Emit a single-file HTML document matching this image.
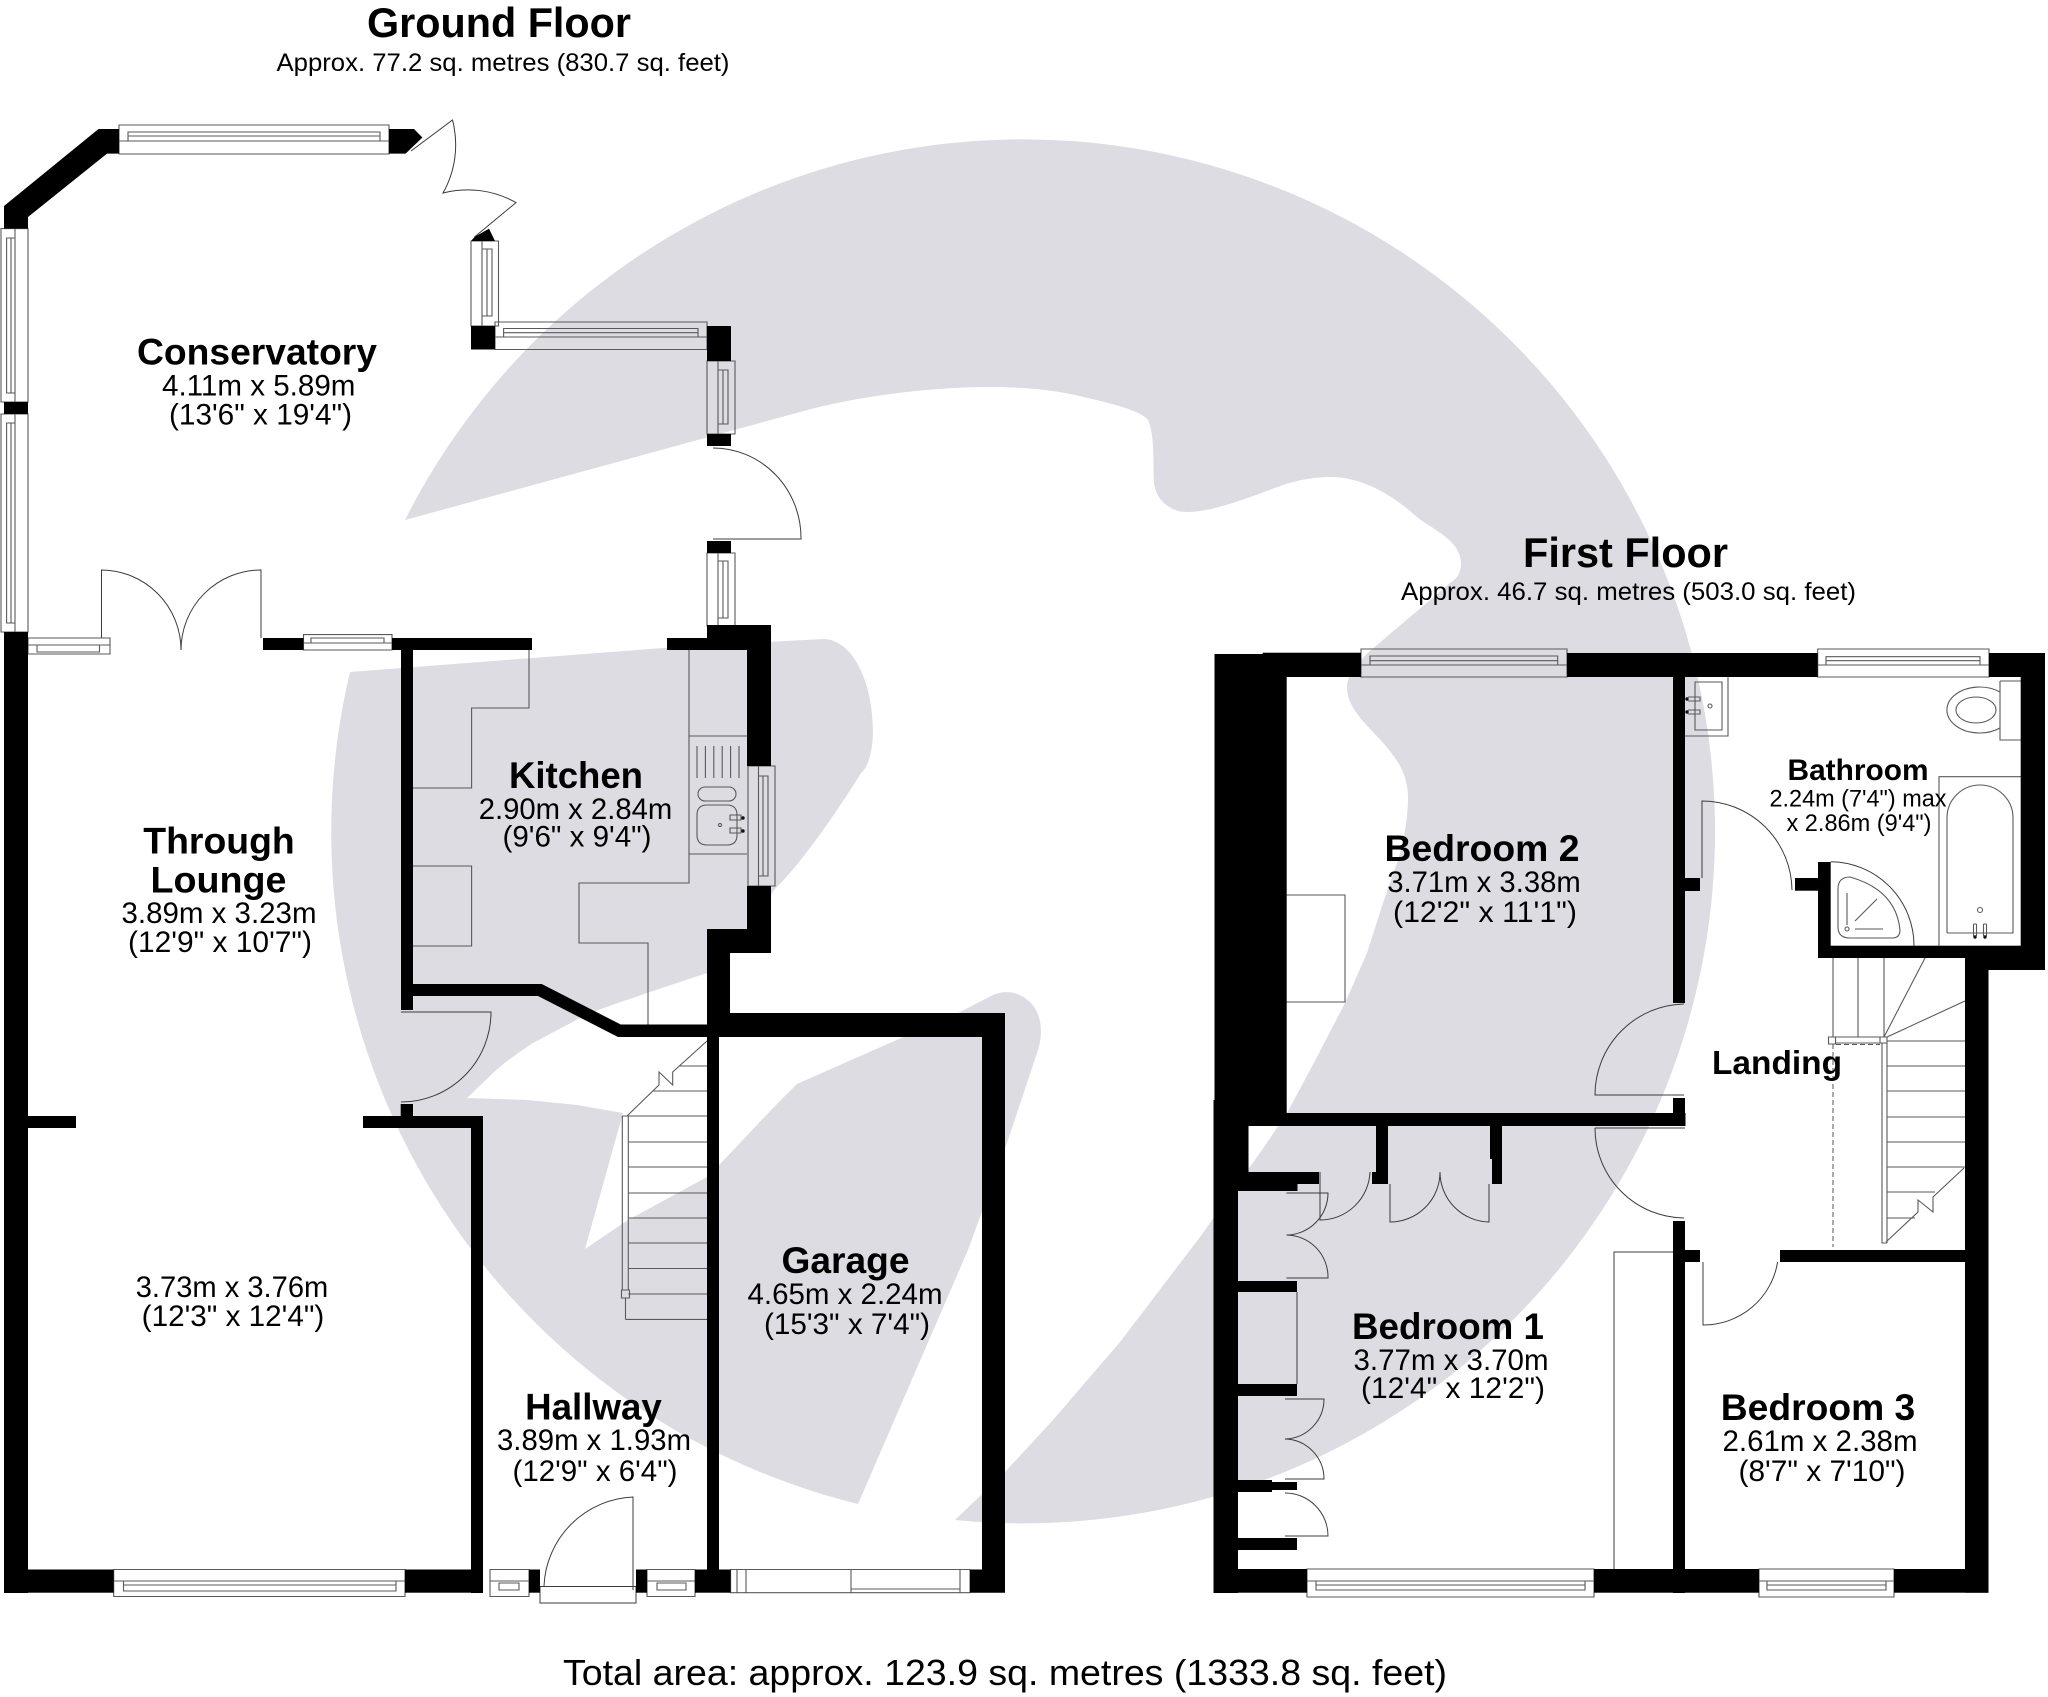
<!DOCTYPE html>
<html><head><meta charset="utf-8"><title>Floor plan</title>
<style>
html,body{margin:0;padding:0;background:#fff}
svg{display:block}
text{font-family:"Liberation Sans",sans-serif;fill:#000;text-anchor:middle}
.b{font-weight:bold;font-size:37px}
.r{font-size:29.5px}
.bb{font-weight:bold;font-size:29.6px}
.rs{font-size:24px}
.t{font-weight:bold;font-size:42px}
.a{font-size:25px}
.l{fill:none;stroke:#3c3c3c;stroke-width:1}
.g{fill:none;stroke:#5a5a5a;stroke-width:1.1}
</style></head><body>
<svg width="2048" height="1697" viewBox="0 0 2048 1697" xmlns="http://www.w3.org/2000/svg">
<rect width="2048" height="1697" fill="#fff"/>
<!-- watermark -->
<g fill="#dcdce2">
<path d="M955,1520 A692,692 0 1 0 405,520 L800,412 C880,390 1000,378 1075,395 C1110,403 1140,410 1148,420 C1155,435 1153,465 1154,483 C1156,500 1170,512 1187,512 C1215,512 1255,495 1283,485 C1305,478 1320,477 1333,477 C1365,478 1395,497 1417,517 C1430,528 1461,540 1461,563 C1461,575 1455,580 1450,583 C1425,605 1400,625 1383,640 C1365,655 1347,670 1347,687 C1347,725 1408,745 1408,797 C1408,820 1403,845 1397,863 L1383,903 L1367,953 L1345,1003 L1317,1057 L1287,1113 L1262,1150 L1200,1237 L1120,1342 L1053,1420 L1005,1472 Z"/>
<path d="M350,672 L689,646 L824,639 C852,640 873,680 873,733 C872,760 865,770 861,773 C835,815 800,865 774,890 C755,925 735,955 707,973 L647,993 C625,1001 600,1008 580,1018 L533,1043 C515,1055 505,1062 493,1073 L467,1098 L527,1100 L577,1105 L623,1113 L585,1249 L628,1220 L707,1177 C730,1155 760,1120 797,1084 L960,1012 L993,995 C1010,988 1022,995 1030,1002 C1040,1012 1045,1030 1037,1053 L1007,1143 L968,1250 L858,1504 A692,692 0 0 1 350,672 Z"/>
</g>
<!-- fixture and door lines -->
<path class="l" d="
M411,151 L452.5,120 A98,98 0 0 1 443,193 A98,98 0 0 1 516,202.6 L474.5,237
M713,448 A88,90 0 0 1 801,538 V539 H713
M101.5,638 V570 A80,80 0 0 1 181,650 A80,80 0 0 1 261,570 V638
M401,1012 H491 A90,90 0 0 1 401,1102
M633,1590 V1497 A93,93 0 0 0 544,1586
M540,1586.5 H636 M540,1586.5 V1603 H636 V1586.5
M1702,878 V801 A90,90 0 0 1 1792,890
M1830.7,861.7 A84,84 0 0 1 1914,945.7
M1684,1004 A91,91 0 0 0 1595,1095 H1684
M1595,1128 H1685 M1595,1128 A90,90 0 0 0 1684,1218
M1703,1262 V1325 A75,75 0 0 0 1777.6,1262
M1320,1172 V1220 A50,50 0 0 0 1370,1172
M1390,1184 V1222 A50,50 0 0 0 1440,1172 A50,50 0 0 0 1489,1222 V1184
M1286.5,1193 H1328 A42,42 0 0 1 1286.5,1235 A42,42 0 0 1 1328,1278 H1286.5
M1285,1399 H1324 A40,40 0 0 1 1285,1439 A40,40 0 0 1 1324,1479 H1285
M1285,1493 A43,43 0 0 1 1328,1536 H1285
M1297,1292 V1384
M1614,1569 V1252 H1673
"/>
<!-- Kitchen -->
<path class="g" d="
M689,650 V883 H579 V943 H648 V1025
M529,650 V708 H471.6 V788 H413
M413,866 H471.6 V946 H413
M689,736 H747 M689,854 H747
M697,746 V778 M705.4,746 V778 M713.8,746 V778 M722.2,746 V778 M730.6,746 V778 M739,746 V778
M705,787 H729 A7,7 0 0 1 729,801 H705 A7,7 0 0 1 705,787 Z
M707,805 H727 Q737,805 737,815 V835 Q737,845 727,845 H707 Q697,845 697,835 V815 Q697,805 707,805 Z
M730,815 H741 V820 H730 Z M730,828 H741 V833 H730 Z
M1685,736 H1728 V677 M1695,682 H1722 V730 H1695 Z
M1688,697 H1700 V701 H1688 M1688,710 H1700 V714 H1688
M1939,945.7 V776.7 H2021
M1947,933 V818 A33,33 0 0 1 2013,818 V933 H1947
M1973.5,924 V936 M1976.5,924 V936 M1983.5,924 V936 M1986.5,924 V936 M1973.5,924 H1976.5 M1983.5,924 H1986.5
M2000,681 H2021 M2000,681 V740 H2021
M1850,877 Q1838,877 1838,889 V927 Q1838,938 1850,938 H1892 Q1900,938 1900,930 Q1896,890 1850,877 Z
M1847,893 V925 M1855,921 L1877,899 M1855,929 H1883
M1286.5,895 H1345 V1002 H1286.5
"/>
<ellipse class="g" cx="720" cy="825" rx="1.6" ry="1.6"/>
<ellipse class="g" cx="1710" cy="706" rx="2" ry="2"/>
<ellipse class="g" cx="1980" cy="910" rx="2.5" ry="2.5"/>
<ellipse class="g" cx="1847" cy="929" rx="2" ry="2"/>
<path class="g" d="M2000,692 A32.7,23 0 1 0 2000,728"/>
<ellipse class="g" cx="1976" cy="710" rx="20" ry="13"/>
<g fill="#111"><circle cx="743" cy="818" r="1.7"/><circle cx="743" cy="831" r="1.7"/><circle cx="1687" cy="699" r="1.7"/><circle cx="1687" cy="712" r="1.7"/><circle cx="1975" cy="937" r="1.7"/><circle cx="1985" cy="937" r="1.7"/></g>
<!-- ground stairs -->
<path class="g" d="
M628.3,1116 H707 M628.3,1142 H707 M628.3,1167 H707 M628.3,1193 H707 M628.3,1218 H707 M628.3,1243 H707 M628.3,1268.5 H707 M628.3,1294 H707 M625.5,1319.4 H707 M625.5,1298 V1319.4
M679,1066 H707 M653,1091 H707
M622.3,1116 V1290 M628.3,1116 V1290 M622.3,1116 H628.3 M621.5,1290 H629.5 V1298 H621.5 Z
M627,1116 L659,1085 V1072 L672.7,1085 V1072 L707,1041
"/>
<!-- first floor stairs -->
<path class="g" d="
M1833,958 V1037 M1858,958 V1037 M1884,958 V1037
M1925,958 L1884,1037 M1965,1001 L1887,1037
M1828.5,1037 H1835.5 V1044 H1828.5 Z M1835.5,1037 H1880 V1043 H1835.5 M1880,1037 H1887 V1043 H1880 Z
M1887,1041 H1965 M1887,1066 H1965 M1887,1091 H1965 M1887,1117 H1965 M1887,1142 H1965 M1887,1167 H1965 M1887,1192 H1935 M1887,1218 H1915
M1887,1043 V1243 M1882,1043 V1243 H1887
M1964,1168 L1933,1197 V1212 L1918,1200 V1212 L1886,1242
"/>
<path d="M1836,1044.5 H1880 M1833,1044 V1247" fill="none" stroke="#555" stroke-width="1" stroke-dasharray="5 3"/>
<!-- windows -->
<path class="g" d="
M119,125 H389 V154 H119 Z M128,132 H380 V141 H128 Z M128,136 H380 M119,141 H389
M495,322 H707 V349.5 H495 Z M503.6,328.5 H698 V337 H503.6 Z M503.6,332.7 H698 M495,337 H707
M28,638 H110 V654 H28 Z M37,645 H99.5 V652 H37 Z M28,645 H110
M303.5,634.6 H392 V650 H303.5 Z M311,638 H384 V643 H311 Z M303.5,643 H392
M113.7,1569.5 H405 V1596.5 H113.7 Z M123.5,1581 H396 V1591 H123.5 Z M123.5,1585 H396 M113.7,1581 H405
M490,1569.5 H529 V1596.5 H490 Z M499,1583 H519 V1590 H499 Z M490,1581 H529
M647,1569.5 H695 V1596.5 H647 Z M657,1583 H686 V1590 H657 Z M647,1581 H695
M1361,649 H1567 V677 H1361 Z M1370,656 H1557.7 V665 H1370 Z M1370,660.7 H1557.7 M1361,665 H1567
M1817.7,649 H1989 V677 H1817.7 Z M1826,656.7 H1980 V665 H1826 Z M1826,660.7 H1980 M1817.7,665 H1989
M1307,1569 H1594 V1597 H1307 Z M1316,1581 H1585 V1590 H1316 Z M1316,1585 H1585 M1307,1581 H1594
M1759,1569 H1894 V1597 H1759 Z M1767,1581 H1886 V1590 H1767 Z M1767,1585 H1886 M1759,1581 H1894
M1,228.6 H28 V402 H1 Z M6.6,238 H15 V393 H6.6 Z M11,238 V393 M15,228.6 V402
M1,414 H28 V632 H1 Z M6.6,423 H15 V623 H6.6 Z M11,423 V623 M15,414 V632
M471,241 H498.5 V326 H471 Z M482,249 H492 V316 H482 Z M487,249 V316 M482,241 V326
M707,361 H735 V434 H707 Z M718,370 H728 V424 H718 Z M723,370 V424 M718,361 V434
M707,553 H735 V626 H707 Z M718,561 H728 V618 H718 Z M723,561 V618 M718,553 V626
M748,766 H775 V886 H748 Z M758.5,776 H768 V876 H758.5 Z M763,776 V876 M758.5,766 V886
M730.6,1569.5 H970 V1592.7 H730.6 Z M737,1569.5 V1592.7 M746,1569.5 V1592.7 M851,1569.5 V1592.7 M960,1569.5 V1592.7 M851,1589 H960
"/>
<!-- walls -->
<g fill="#000">
<polygon points="4,206 98.5,129 119,129 119,153.6 107,153.6 28,217 28,228.6 4,228.6"/>
<polygon points="389,129 414,129 422.4,137.5 405.6,153.6 389,153.6"/>
<rect x="4" y="402" width="24" height="12"/>
<rect x="4" y="632" width="24" height="961"/>
<polygon points="471,241 474.5,237 489,228.6 495,241"/>
<rect x="471" y="326" width="24" height="23.5"/>
<rect x="707" y="326" width="24" height="35"/>
<rect x="707" y="434" width="24" height="12"/>
<rect x="707" y="541" width="24" height="12"/>
<rect x="263" y="638" width="40.5" height="12"/>
<rect x="392" y="638" width="140" height="12"/>
<rect x="401" y="650" width="12" height="360"/>
<polygon points="667,638 707,638 707,625 771,625 771,766 747,766 747,650 667,650"/>
<polygon points="747,886 771,886 771,953 730,953 730,1013 1005,1013 1005,1592.7 970,1592.7 970,1569.5 982,1569.5 982,1037 719,1037 719,1569.5 707,1569.5 707,1037 618,1037 538,996 413,996 413,984 541.7,984 620.7,1024.5 707,1024.5 707,929 747,929"/>
<rect x="695" y="1569.5" width="35.6" height="23.2"/>
<rect x="4" y="1569.5" width="109.7" height="23.2"/>
<rect x="405" y="1569.5" width="78" height="23.2"/>
<rect x="529" y="1569.5" width="11" height="23.2"/>
<rect x="636" y="1569.5" width="11" height="23.2"/>
<rect x="28" y="1116" width="48" height="12"/>
<rect x="363" y="1116" width="120" height="12"/>
<rect x="400.7" y="1104" width="12.3" height="12"/>
<rect x="471" y="1128" width="12" height="465"/>
<!-- first floor -->
<rect x="1214.5" y="654" width="72.2" height="459"/>
<rect x="1213.5" y="1100" width="10" height="20"/>
<rect x="1262.7" y="652.7" width="98.3" height="24.3"/>
<rect x="1213.5" y="1113" width="472" height="13"/>
<rect x="1213.5" y="1113" width="35" height="60"/>
<rect x="1213.5" y="1172" width="105.5" height="12"/>
<rect x="1213.5" y="1184" width="84" height="7"/>
<rect x="1213.5" y="1191" width="24.5" height="402"/>
<rect x="1567" y="653" width="250.7" height="24"/>
<rect x="1989" y="653" width="56" height="24"/>
<rect x="2020.7" y="653" width="24.3" height="317"/>
<rect x="1988" y="945.7" width="57" height="24.3"/>
<rect x="1818" y="945.7" width="170" height="12.3"/>
<rect x="1965" y="958" width="23.5" height="634.7"/>
<rect x="1818" y="862" width="12.7" height="96"/>
<rect x="1795" y="878" width="23" height="12.7"/>
<rect x="1673" y="677" width="12" height="326"/>
<rect x="1685" y="878" width="15" height="13"/>
<rect x="1673" y="1098" width="12" height="28"/>
<rect x="1673" y="1221" width="12" height="372"/>
<rect x="1685" y="1250" width="15" height="12"/>
<rect x="1780" y="1250" width="185" height="12"/>
<rect x="1376" y="1126" width="12" height="46"/>
<rect x="1372" y="1172" width="16" height="12"/>
<rect x="1490" y="1126" width="12" height="33"/>
<rect x="1492" y="1159" width="10" height="25"/>
<rect x="1238" y="1281" width="59" height="11"/>
<rect x="1238" y="1384" width="59" height="12"/>
<rect x="1238" y="1480" width="34" height="12"/>
<rect x="1272" y="1482" width="25" height="8"/>
<rect x="1238" y="1538" width="59" height="12"/>
<rect x="1213.5" y="1569" width="93.5" height="23.7"/>
<rect x="1594" y="1569" width="165" height="23.7"/>
<rect x="1894" y="1569" width="94.5" height="23.7"/>
</g>
<!-- text -->
<text class="t" x="499" y="37" textLength="264" lengthAdjust="spacingAndGlyphs">Ground Floor</text>
<text class="a" x="503" y="71" textLength="453" lengthAdjust="spacingAndGlyphs">Approx. 77.2 sq. metres (830.7 sq. feet)</text>
<text class="b" x="257" y="364.5" textLength="240" lengthAdjust="spacingAndGlyphs">Conservatory</text>
<text class="r" x="258.7" y="395.5" textLength="193.4" lengthAdjust="spacingAndGlyphs">4.11m x 5.89m</text>
<text class="r" x="260.5" y="424.5" textLength="183" lengthAdjust="spacingAndGlyphs">(13'6" x 19'4")</text>
<text class="b" x="576" y="788" textLength="134" lengthAdjust="spacingAndGlyphs">Kitchen</text>
<text class="r" x="575.5" y="819" textLength="193.6" lengthAdjust="spacingAndGlyphs">2.90m x 2.84m</text>
<text class="r" x="577" y="846.5" textLength="149" lengthAdjust="spacingAndGlyphs">(9'6" x 9'4")</text>
<text class="b" x="219" y="853.5" textLength="151.5" lengthAdjust="spacingAndGlyphs">Through</text>
<text class="b" x="218.5" y="892.5" textLength="136" lengthAdjust="spacingAndGlyphs">Lounge</text>
<text class="r" x="219" y="923" textLength="195" lengthAdjust="spacingAndGlyphs">3.89m x 3.23m</text>
<text class="r" x="220" y="952" textLength="184" lengthAdjust="spacingAndGlyphs">(12'9" x 10'7")</text>
<text class="r" x="232" y="1297" textLength="192.5" lengthAdjust="spacingAndGlyphs">3.73m x 3.76m</text>
<text class="r" x="233" y="1326" textLength="182.6" lengthAdjust="spacingAndGlyphs">(12'3" x 12'4")</text>
<text class="b" x="845.5" y="1273" textLength="128" lengthAdjust="spacingAndGlyphs">Garage</text>
<text class="r" x="845" y="1304" textLength="195" lengthAdjust="spacingAndGlyphs">4.65m x 2.24m</text>
<text class="r" x="847" y="1334" textLength="166" lengthAdjust="spacingAndGlyphs">(15'3" x 7'4")</text>
<text class="b" x="593.5" y="1419.5" textLength="136.7" lengthAdjust="spacingAndGlyphs">Hallway</text>
<text class="r" x="594" y="1450" textLength="194" lengthAdjust="spacingAndGlyphs">3.89m x 1.93m</text>
<text class="r" x="595" y="1481" textLength="165" lengthAdjust="spacingAndGlyphs">(12'9" x 6'4")</text>
<text class="t" x="1625.5" y="567" textLength="205" lengthAdjust="spacingAndGlyphs">First Floor</text>
<text class="a" x="1628.5" y="600" textLength="455" lengthAdjust="spacingAndGlyphs">Approx. 46.7 sq. metres (503.0 sq. feet)</text>
<text class="b" x="1482" y="861" textLength="195" lengthAdjust="spacingAndGlyphs">Bedroom 2</text>
<text class="r" x="1484" y="892" textLength="193.6" lengthAdjust="spacingAndGlyphs">3.71m x 3.38m</text>
<text class="r" x="1485" y="922" textLength="184" lengthAdjust="spacingAndGlyphs">(12'2" x 11'1")</text>
<text class="bb" x="1858" y="780" textLength="141" lengthAdjust="spacingAndGlyphs">Bathroom</text>
<text class="rs" x="1858" y="806.5" textLength="177" lengthAdjust="spacingAndGlyphs">2.24m (7'4") max</text>
<text class="rs" x="1859" y="831" textLength="145" lengthAdjust="spacingAndGlyphs">x 2.86m (9'4")</text>
<text class="bb" x="1777" y="1074" textLength="130" lengthAdjust="spacingAndGlyphs" style="font-size:33px">Landing</text>
<text class="b" x="1448" y="1339" textLength="192" lengthAdjust="spacingAndGlyphs">Bedroom 1</text>
<text class="r" x="1451" y="1370" textLength="195" lengthAdjust="spacingAndGlyphs">3.77m x 3.70m</text>
<text class="r" x="1453" y="1398" textLength="184" lengthAdjust="spacingAndGlyphs">(12'4" x 12'2")</text>
<text class="b" x="1818" y="1420" textLength="194.5" lengthAdjust="spacingAndGlyphs">Bedroom 3</text>
<text class="r" x="1820" y="1451" textLength="195" lengthAdjust="spacingAndGlyphs">2.61m x 2.38m</text>
<text class="r" x="1822" y="1481" textLength="167" lengthAdjust="spacingAndGlyphs">(8'7" x 7'10")</text>
<text x="1005" y="1685" textLength="884" lengthAdjust="spacingAndGlyphs" style="font-size:36px">Total area: approx. 123.9 sq. metres (1333.8 sq. feet)</text>
</svg>
</body></html>
